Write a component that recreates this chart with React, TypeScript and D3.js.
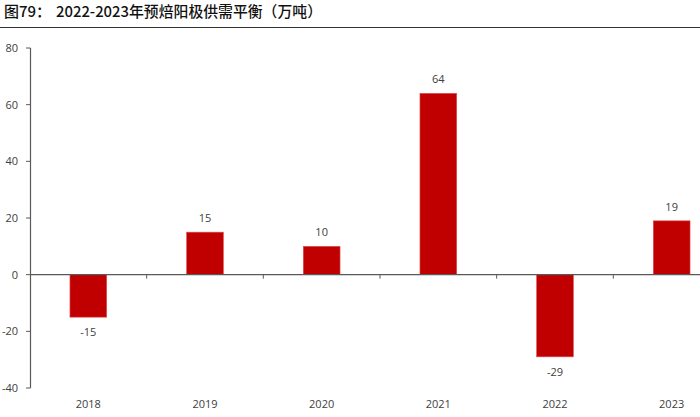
import React from "react";
import * as d3 from "d3";

const categories = ["2018", "2019", "2020", "2021", "2022", "2023"];
const values = [-15, 15, 10, 64, -29, 19];
const yTicks = [80, 60, 40, 20, 0, -20, -40];
const titleLabel = "图79：";
const titleText = "2022-2023年预焙阳极供需平衡（万吨）";

const W = 700;
const H = 417;

export default function App() {
  const x = d3.scaleBand<string>().domain(categories).range([30, 730]).paddingInner(0.685).paddingOuter(0.3425);
  const y = d3.scaleLinear().domain([-40, 80]).range([388, 48]);
  const step = x.step();
  const x0 = 30;
  const zero = y(0);
  const font = "'Open Sans', 'Liberation Sans', sans-serif";
  const cjk = "'Noto Sans CJK SC', sans-serif";
  const textColor = "#404040";
  const axisColor = "#595959";
  return (
    <svg width={W} height={H} style={{ position: "absolute", left: 0, top: 0, background: "#fff" }}>
      <text x={4} y={17} fontFamily={cjk} fontSize={15} fontWeight={500} fill="#111">
        {titleLabel}
      </text>
      <text x={56} y={17} fontFamily={cjk} fontSize={15} fontWeight={500} fill="#111" textLength={266} lengthAdjust="spacingAndGlyphs">
        {titleText}
      </text>
      <line x1={0} x2={700} y1={27.5} y2={27.5} stroke="#333" strokeWidth={1} />
      {/* y axis */}
      <line x1={30.5} x2={30.5} y1={y(80)} y2={y(-40)} stroke={axisColor} strokeWidth={1.2} />
      {yTicks.map((t) => (
        <g key={t}>
          <line x1={26} x2={30.5} y1={y(t)} y2={y(t)} stroke={axisColor} strokeWidth={1} />
          <text x={18} y={y(t)} dy="0.35em" textAnchor="end" fontFamily={font} fontSize={11} fill={textColor}>
            {t}
          </text>
        </g>
      ))}
      {/* bars */}
      {categories.map((c, i) => {
        const v = values[i];
        const top = Math.min(y(v), zero);
        const h = Math.abs(y(v) - zero);
        return (
          <rect key={c} x={x(c)} y={top} width={x.bandwidth()} height={h} fill="#C00000" stroke="#e05050" strokeWidth={0.6} />
        );
      })}
      {/* zero line */}
      <line x1={30} x2={700} y1={zero} y2={zero} stroke={axisColor} strokeWidth={1.2} />
      {d3.range(1, categories.length).map((i) => (
        <line key={i} x1={x0 + i * step} x2={x0 + i * step} y1={zero} y2={zero + 4} stroke={axisColor} strokeWidth={1} />
      ))}
      {/* data labels */}
      {categories.map((c, i) => {
        const v = values[i];
        const cx = (x(c) as number) + x.bandwidth() / 2;
        const ly = v >= 0 ? y(v) - 14 : y(v) + 15;
        return (
          <text key={c} x={cx} y={ly} dy="0.35em" textAnchor="middle" fontFamily={font} fontSize={11} fill={textColor}>
            {v}
          </text>
        );
      })}
      {/* category labels */}
      {categories.map((c) => (
        <text key={c} x={(x(c) as number) + x.bandwidth() / 2} y={404} dy="0.35em" textAnchor="middle" fontFamily={font} fontSize={11} fill={textColor}>
          {c}
        </text>
      ))}
    </svg>
  );
}
